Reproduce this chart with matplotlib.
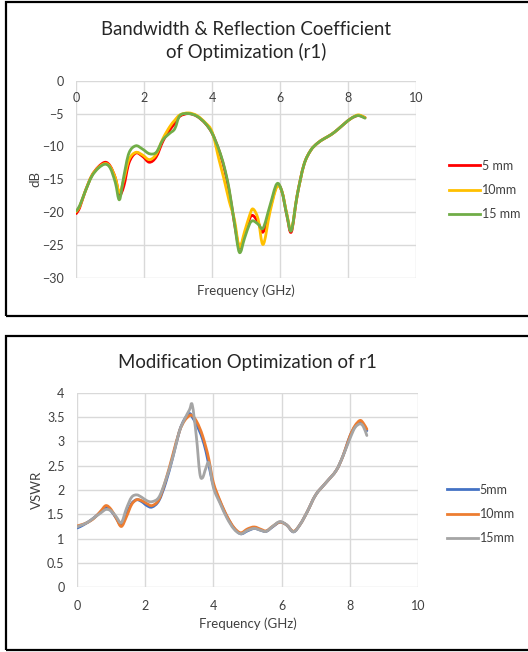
import matplotlib
matplotlib.use("Agg")
import matplotlib.pyplot as plt
from matplotlib.patches import Rectangle, PathPatch
from matplotlib.path import Path
from matplotlib.lines import Line2D

plt.rcParams["font.family"] = ["Lato", "DejaVu Sans"]

# top chart: reflection coefficient (dB)
freq_top = [0, 0.1, 0.25, 0.45, 0.65, 0.85, 1.0, 1.15, 1.27, 1.4, 1.55, 1.75, 1.95,
            2.15, 2.35, 2.55, 2.75, 2.9, 3.05, 3.3, 3.55, 3.8, 4.0, 4.2, 4.35, 4.5,
            4.65, 4.8, 4.95, 5.1, 5.2, 5.35, 5.5, 5.7, 5.9, 6.05, 6.2, 6.33, 6.5,
            6.7, 6.9, 7.1, 7.3, 7.5, 7.7, 7.9, 8.1, 8.3, 8.5]
db_5mm = [-20.2, -19.3, -17.0, -14.5, -13.1, -12.4, -13.0, -14.8, -17.3, -16.0, -12.5,
          -11.0, -11.5, -12.4, -11.6, -9.2, -7.5, -6.5, -5.4, -5.0, -5.4, -6.5, -8.0,
          -10.6, -13.2, -16.8, -21.5, -25.4, -23.5, -21.0, -20.5, -21.5, -23.0, -19.5,
          -16.0, -16.8, -20.5, -23.0, -17.5, -12.8, -10.6, -9.5, -8.8, -8.2, -7.4,
          -6.5, -5.7, -5.3, -5.6]
db_10mm = [-19.9, -19.1, -17.0, -14.5, -13.2, -12.6, -13.1, -14.8, -17.0, -15.0, -12.0,
           -10.9, -11.3, -12.0, -11.2, -8.8, -7.0, -6.0, -5.2, -4.9, -5.3, -6.4, -7.8,
           -12.0, -15.0, -18.3, -21.0, -25.3, -23.0, -20.5, -19.5, -21.0, -24.9, -20.0,
           -16.2, -16.8, -20.3, -22.7, -17.5, -12.8, -10.6, -9.5, -8.8, -8.2, -7.4,
           -6.5, -5.7, -5.2, -5.6]
db_15mm = [-19.8, -19.0, -17.0, -14.6, -13.3, -12.7, -13.3, -15.5, -18.1, -14.5, -11.0,
           -9.9, -10.4, -11.1, -10.9, -9.0, -8.0, -7.3, -5.3, -5.0, -5.4, -6.5, -8.0,
           -10.5, -13.0, -16.5, -21.5, -26.1, -24.0, -21.8, -21.3, -21.8, -22.4, -19.0,
           -15.7, -16.8, -20.5, -22.8, -17.5, -12.8, -10.6, -9.5, -8.8, -8.2, -7.4,
           -6.5, -5.7, -5.3, -5.7]

# bottom chart: VSWR
freq_bot = [0, 0.1, 0.3, 0.5, 0.7, 0.85, 1.0, 1.15, 1.3, 1.45, 1.6, 1.75, 1.9, 2.05,
            2.2, 2.4, 2.6, 2.8, 3.0, 3.15, 3.3, 3.38, 3.5, 3.6, 3.68, 3.78, 3.87, 4.0,
            4.2, 4.4, 4.6, 4.8, 5.0, 5.2, 5.4, 5.55, 5.75, 5.95, 6.15, 6.35, 6.55,
            6.75, 7.0, 7.3, 7.6, 7.8, 8.0, 8.15, 8.3, 8.4, 8.5]
vswr_5mm = [1.22, 1.25, 1.33, 1.43, 1.55, 1.63, 1.57, 1.42, 1.28, 1.5, 1.72, 1.8, 1.76,
            1.68, 1.65, 1.78, 2.15, 2.65, 3.2, 3.45, 3.57, 3.5, 3.35, 3.2, 3.05, 2.8,
            2.5, 2.1, 1.75, 1.45, 1.22, 1.1, 1.16, 1.21, 1.17, 1.15, 1.25, 1.34, 1.28,
            1.14, 1.3, 1.55, 1.9, 2.15, 2.4, 2.7, 3.1, 3.3, 3.4, 3.33, 3.22]
vswr_10mm = [1.26, 1.28, 1.33, 1.42, 1.57, 1.68, 1.6, 1.42, 1.25, 1.45, 1.7, 1.8, 1.78,
             1.72, 1.68, 1.8, 2.2, 2.7, 3.2, 3.42, 3.53, 3.53, 3.42, 3.27, 3.12, 2.88,
             2.62, 2.15, 1.77, 1.46, 1.23, 1.12, 1.2, 1.24, 1.19, 1.16, 1.26, 1.34, 1.28,
             1.15, 1.3, 1.55, 1.9, 2.15, 2.4, 2.7, 3.1, 3.32, 3.43, 3.37, 3.25]
vswr_15mm = [1.24, 1.27, 1.33, 1.43, 1.53, 1.6, 1.57, 1.45, 1.33, 1.62, 1.85, 1.9, 1.85,
             1.78, 1.76, 1.85, 2.2, 2.65, 3.2, 3.45, 3.65, 3.75, 3.1, 2.35, 2.25, 2.45,
             2.55, 2.05, 1.72, 1.42, 1.2, 1.1, 1.17, 1.21, 1.17, 1.15, 1.26, 1.35, 1.28,
             1.14, 1.3, 1.55, 1.9, 2.15, 2.4, 2.7, 3.05, 3.28, 3.36, 3.3, 3.12]

W, H = 528, 652
fig = plt.figure(figsize=(W / 100, H / 100), dpi=100)

txt = "#404040"
grid_c = "#d9d9d9"


def smooth_line(ax, x, y, color, label):
    # excel-style smoothed line: cubic bezier through the points
    n = len(x)
    verts = [(x[0], y[0])]
    codes = [Path.MOVETO]
    for i in range(n - 1):
        x0, y0 = x[max(i - 1, 0)], y[max(i - 1, 0)]
        x1, y1 = x[i], y[i]
        x2, y2 = x[i + 1], y[i + 1]
        x3, y3 = x[min(i + 2, n - 1)], y[min(i + 2, n - 1)]
        c1 = (x1 + (x2 - x0) / 6, y1 + (y2 - y0) / 6)
        c2 = (x2 - (x3 - x1) / 6, y2 - (y3 - y1) / 6)
        verts += [c1, c2, (x2, y2)]
        codes += [Path.CURVE4] * 3
    ax.add_patch(PathPatch(Path(verts, codes), fill=False, ec=color, lw=2.0,
                           capstyle="round", joinstyle="round"))
    return Line2D([], [], color=color, lw=2.0, label=label)


def style(ax, ylim, yticks):
    ax.set_xlim(0, 10)
    ax.set_ylim(*ylim)
    ax.set_xticks(range(0, 11, 2))
    ax.set_yticks(yticks)
    ax.grid(True, color=grid_c, lw=1.0)
    ax.set_axisbelow(True)
    for s in ax.spines.values():
        s.set_visible(False)
    ax.tick_params(length=0, labelsize=9, labelcolor=txt, pad=9)
    ax.set_xlabel("Frequency (GHz)", fontsize=9.5, color=txt)


def add_legend(ax, handles, x, y):
    ax.legend(handles=handles, loc="center left", bbox_to_anchor=(x / W, 1 - y / H),
              bbox_transform=fig.transFigure, frameon=False, fontsize=9,
              handlelength=2.5, handletextpad=0.1, labelspacing=1.0,
              borderpad=0, borderaxespad=0, labelcolor=txt)


# top panel
fig.add_artist(Rectangle((6 / W, 1 - 316 / H), 1.0, 314 / H, transform=fig.transFigure,
                         fill=False, ec="black", lw=1.6))
ax1 = fig.add_axes([76.3 / W, 1 - 278 / H, 339.7 / W, 197.3 / H])
h1 = [smooth_line(ax1, freq_top, db_5mm, "#ff0000", "5 mm"),
      smooth_line(ax1, freq_top, db_10mm, "#ffc000", "10mm"),
      smooth_line(ax1, freq_top, db_15mm, "#70ad47", "15 mm")]
style(ax1, (-30, 0), range(-30, 1, 5))
ax1.spines["bottom"].set_position(("data", 0))
ax1.tick_params(axis="x", pad=8)
ax1.xaxis.set_label_coords(0.5, -0.035)
ax1.set_ylabel("dB", fontsize=9.5, color=txt)
ax1.yaxis.set_label_coords(-0.104, 0.5)
ax1.set_title("Bandwidth & Reflection Coefficient\nof Optimization (r1)",
              fontsize=13.4, color="#262626", pad=16, linespacing=1.35)
add_legend(ax1, h1, 449, 190)

# bottom panel
fig.add_artist(Rectangle((6 / W, 1 - 650 / H), 1.0, 314 / H, transform=fig.transFigure,
                         fill=False, ec="black", lw=1.6))
ax2 = fig.add_axes([77 / W, 1 - 587.3 / H, 341 / W, 194.6 / H])
h2 = [smooth_line(ax2, freq_bot, vswr_5mm, "#4472c4", "5mm"),
      smooth_line(ax2, freq_bot, vswr_10mm, "#ed7d31", "10mm"),
      smooth_line(ax2, freq_bot, vswr_15mm, "#a5a5a5", "15mm")]
style(ax2, (0, 4), [0, 0.5, 1, 1.5, 2, 2.5, 3, 3.5, 4])
ax2.set_yticklabels(["0", "0.5", "1", "1.5", "2", "2.5", "3", "3.5", "4"])
ax2.set_ylabel("VSWR", fontsize=9.5, color=txt)
ax2.yaxis.set_label_coords(-0.1, 0.5)
ax2.set_title("Modification Optimization of r1", fontsize=13.4, color="#262626", pad=18)
add_legend(ax2, h2, 447, 514)

fig.savefig("out.png", dpi=100)
